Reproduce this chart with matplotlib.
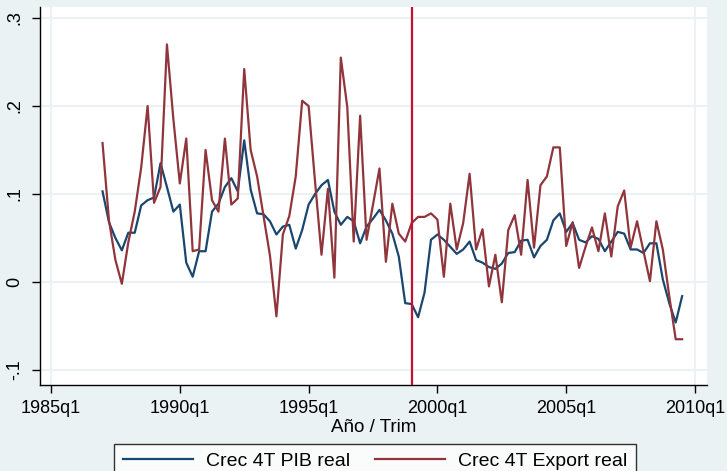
import matplotlib
matplotlib.use("Agg")
import matplotlib.pyplot as plt
import pandas as pd

# ---------------- data ----------------
start_q = "1987Q1"
end_q = "2009Q3"
pib = [0.103, 0.068, 0.050, 0.036, 0.056, 0.056, 0.087, 0.093, 0.096, 0.135,
       0.108, 0.080, 0.088, 0.022, 0.006, 0.035, 0.035, 0.080, 0.089, 0.108,
       0.118, 0.103, 0.161, 0.105, 0.078, 0.077, 0.069, 0.054, 0.063, 0.065,
       0.038, 0.059, 0.088, 0.100, 0.110, 0.116, 0.080, 0.065, 0.074, 0.069,
       0.044, 0.063, 0.072, 0.082, 0.070, 0.055, 0.029, -0.024, -0.025, -0.040,
       -0.012, 0.048, 0.054, 0.048, 0.040, 0.032, 0.037, 0.046, 0.025, 0.022,
       0.017, 0.015, 0.021, 0.033, 0.034, 0.047, 0.048, 0.028, 0.041, 0.048,
       0.070, 0.078, 0.057, 0.067, 0.048, 0.045, 0.052, 0.049, 0.035, 0.046,
       0.057, 0.055, 0.037, 0.037, 0.033, 0.044, 0.044, 0.003, -0.024, -0.046,
       -0.016]
export = [0.158, 0.070, 0.025, -0.002, 0.045, 0.080, 0.130, 0.200, 0.090, 0.108,
          0.270, 0.185, 0.112, 0.163, 0.035, 0.037, 0.150, 0.093, 0.080, 0.163,
          0.088, 0.095, 0.242, 0.150, 0.120, 0.075, 0.030, -0.039, 0.054, 0.075,
          0.120, 0.206, 0.200, 0.114, 0.031, 0.106, 0.005, 0.255, 0.199, 0.046,
          0.189, 0.048, 0.088, 0.129, 0.023, 0.089, 0.055, 0.046, 0.067, 0.074,
          0.074, 0.078, 0.071, 0.006, 0.089, 0.037, 0.067, 0.123, 0.037, 0.060,
          -0.005, 0.031, -0.023, 0.059, 0.076, 0.031, 0.116, 0.039, 0.110, 0.120,
          0.153, 0.153, 0.041, 0.068, 0.016, 0.040, 0.062, 0.035, 0.078, 0.029,
          0.086, 0.104, 0.039, 0.069, 0.035, 0.001, 0.069, 0.037, -0.016, -0.065,
          -0.065]
xtick_labels = ["1985q1", "1990q1", "1995q1", "2000q1", "2005q1", "2010q1"]
ytick_values = [-0.1, 0, 0.1, 0.2, 0.3]
ytick_labels = ["-.1", "0", ".1", ".2", ".3"]
vline_q = "1999Q1"
series_labels = ["Crec 4T PIB real", "Crec 4T Export real"]

# ---------------- style ----------------
plt.rcParams["font.family"] = ["Liberation Sans", "DejaVu Sans"]

BG = "#EAF2F3"
NAVY = "#1A476F"
MAROON = "#90353B"
FS_TICK = 13
FS_LAB = 13.5
FS_LEG = 14

base = pd.Period("1985Q1", freq="Q")
periods = pd.period_range(start_q, end_q, freq="Q")
x = [(p - base).n for p in periods]
xticks = [(pd.Period(lbl.replace("q", "Q"), freq="Q") - base).n for lbl in xtick_labels]
xv = (pd.Period(vline_q, freq="Q") - base).n

W, H = 727, 471
fig = plt.figure(figsize=(W / 100, H / 100), dpi=100)
fig.patch.set_facecolor(BG)
L, R, T, B = 40, 707, 7, 385
ax = fig.add_axes([L / W, 1 - B / H, (R - L) / W, (B - T) / H])
ax.set_facecolor("white")

ax.set_xlim(-1.71, 101.86)
ax.set_ylim(-0.117, 0.3125)

for yv in ytick_values:
    ax.axhline(yv, color=BG, lw=1.5, zorder=0)
for xt in (xticks[0], xticks[-1]):
    ax.axvline(xt, color=BG, lw=1.5, zorder=0)

ax.plot(x, pib, color=NAVY, lw=1.6, label=series_labels[0], zorder=3)
ax.plot(x, export, color=MAROON, lw=1.6, label=series_labels[1], zorder=3)
ax.axvline(xv, color="#C8102E", lw=1.6, zorder=4)

for s in ("top", "right"):
    ax.spines[s].set_visible(False)
for s in ("left", "bottom"):
    ax.spines[s].set_color("black")
    ax.spines[s].set_linewidth(1.0)

ax.set_xticks(xticks)
ax.set_xticklabels(xtick_labels, fontsize=FS_TICK)
ax.set_yticks(ytick_values)
ax.set_yticklabels(ytick_labels, fontsize=FS_TICK, rotation=90, va="center")
ax.tick_params(axis="both", direction="out", length=6, width=1.0, color="black")
ax.tick_params(axis="x", pad=5)
ax.tick_params(axis="y", pad=6)
ax.set_xlabel("Año / Trim", fontsize=FS_LAB, labelpad=1)

leg = fig.legend(loc="upper center", bbox_to_anchor=(375 / W, 1 - 444 / H), ncol=2,
                 fontsize=FS_LEG, frameon=True, fancybox=False, handlelength=3.6,
                 columnspacing=1.3, handletextpad=0.67, borderpad=0.42,
                 borderaxespad=0.0)
leg.get_frame().set_edgecolor("black")
leg.get_frame().set_linewidth(1.0)
leg.get_frame().set_facecolor("white")
for ln in leg.get_lines():
    ln.set_linewidth(1.6)

fig.savefig("out.png", dpi=100, facecolor=BG)
